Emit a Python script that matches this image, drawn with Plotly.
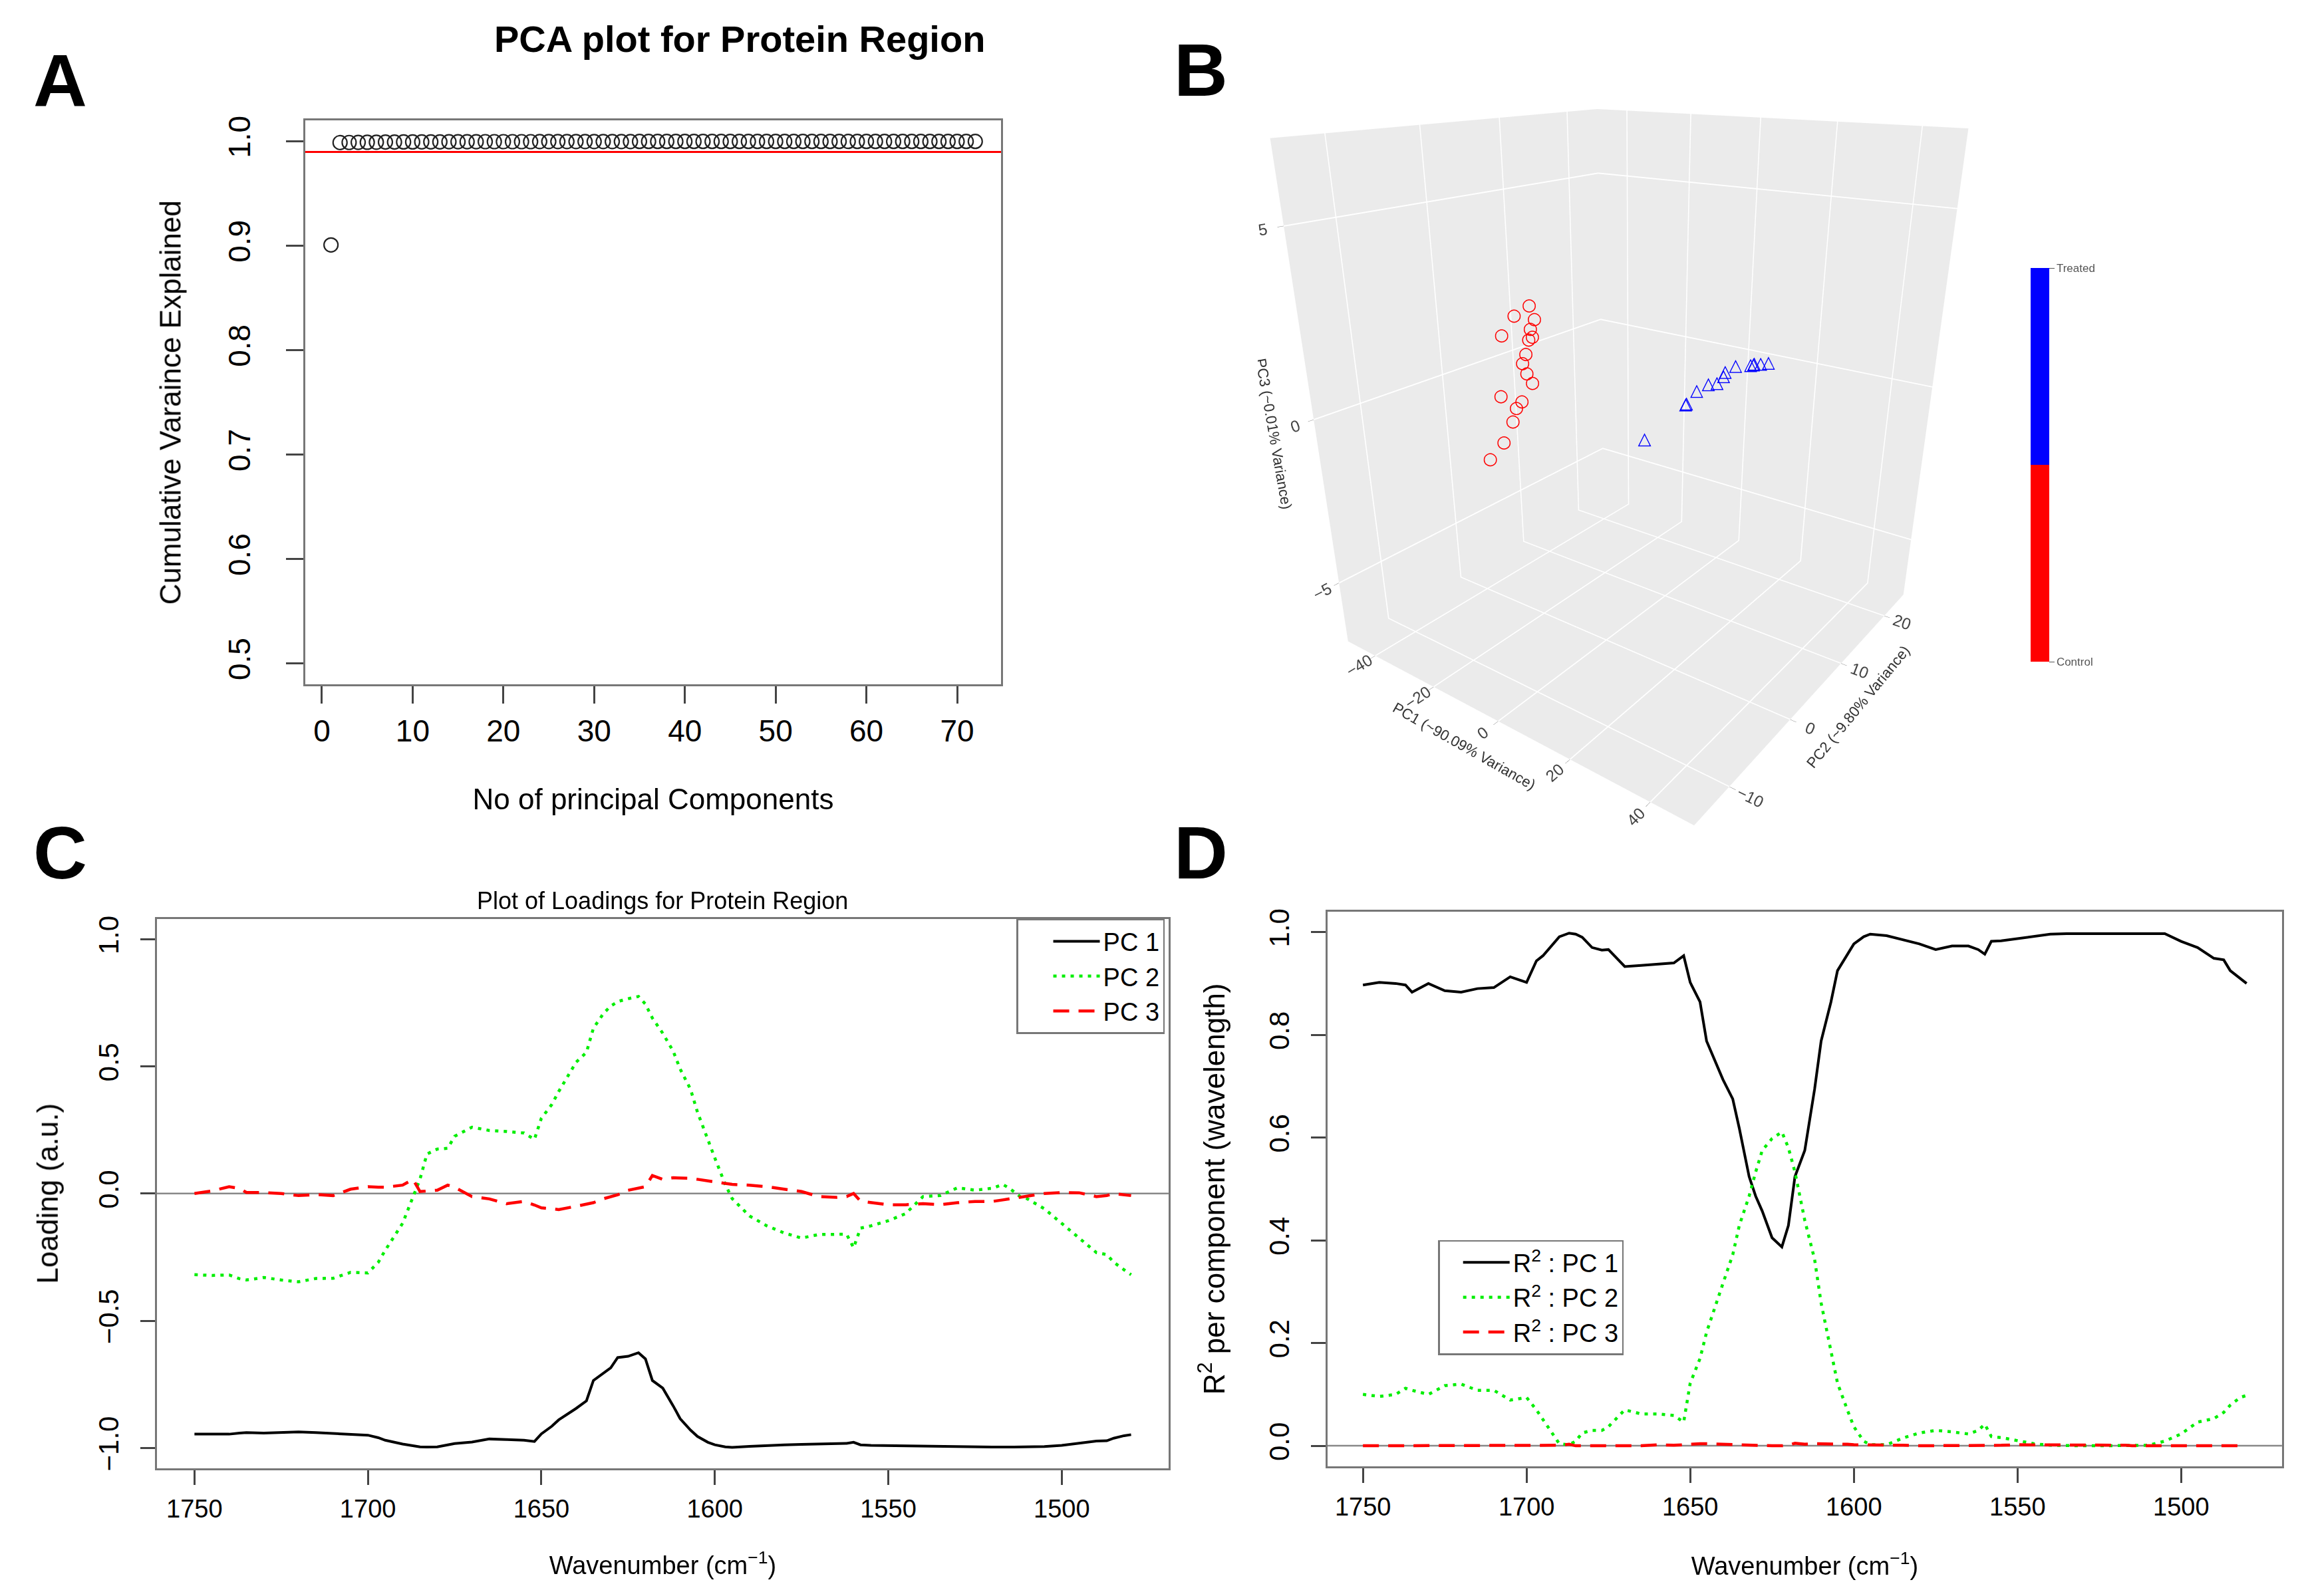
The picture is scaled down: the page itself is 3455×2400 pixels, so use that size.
import plotly.graph_objects as go

# ---------------- data ----------------
# A: cumulative variance explained per number of principal components
n_components = list(range(1, 73))
cum_variance = [
    0.9009, 0.9989, 0.9990, 0.9991, 0.9992, 0.9993, 0.9994, 0.9994, 0.9995, 0.9995,
    0.9996, 0.9996, 0.9996, 0.9997, 0.9997, 0.9997, 0.9997, 0.9998, 0.9998, 0.9998,
    0.9998, 0.9998, 0.9998, 0.9999, 0.9999, 0.9999, 0.9999, 0.9999, 0.9999, 0.9999,
    0.9999, 0.9999, 0.9999, 0.9999, 1.0000, 1.0000, 1.0000, 1.0000, 1.0000, 1.0000,
    1.0000, 1.0000, 1.0000, 1.0000, 1.0000, 1.0000, 1.0000, 1.0000, 1.0000, 1.0000,
    1.0000, 1.0000, 1.0000, 1.0000, 1.0000, 1.0000, 1.0000, 1.0000, 1.0000, 1.0000,
    1.0000, 1.0000, 1.0000, 1.0000, 1.0000, 1.0000, 1.0000, 1.0000, 1.0000, 1.0000,
    1.0000, 1.0000,
]
variance_cutoff = 0.99

# B: PCA scores
control_pc1 = [-30, -31, -29, -30, -32, -29, -30, -30, -31, -30, -29, -32, -30, -31, -30, -31, -32]
control_pc2 = [4.1, 2.4, 4.3, 4.1, 1.0, 3.9, 3.8, 3.3, 3.2, 3.3, 3.6, 0.4, 2.4, 2.0, 1.0, 0.0, -1.6]
control_pc3 = [1.5, 1.3, 1.1, 0.8, 0.8, 0.6, 0.5, 0.1, -0.2, -0.5, -0.8, -1.0, -1.3, -1.5, -1.8, -2.4, -2.8]
control_code = [0] * len(control_pc1)
treated_pc1 = [30, 31, 30, 29, 30, 31, 30, 29, 30, 31, 30, 29, 30, 31]
treated_pc2 = [-10.4, -5.7, -5.2, -3.1, -2.1, -1.5, 0.1, 1.0, 1.9, 3.6, 4.9, 5.5, 6.0, 6.6]
treated_pc3 = [0.8, 1.2, 1.1, 1.2, 1.3, 1.3, 1.3, 1.3, 1.4, 1.3, 1.2, 1.1, 1.1, 1.1]

# C, D: loadings and R^2 per wavenumber
wavenumber = [
    1750, 1745, 1740, 1737, 1735, 1730, 1725, 1720, 1715, 1710,
    1705, 1700, 1697, 1695, 1690, 1687, 1685, 1683, 1680, 1677,
    1675, 1670, 1665, 1660, 1655, 1652, 1650, 1647, 1645, 1640,
    1637, 1635, 1632, 1630, 1628, 1625, 1622, 1620, 1618, 1615,
    1612, 1610, 1607, 1605, 1602, 1600, 1597, 1595, 1590, 1585,
    1580, 1575, 1570, 1565, 1562, 1560, 1558, 1555, 1550, 1545,
    1540, 1535, 1530, 1525, 1520, 1517, 1515, 1512, 1510, 1505,
    1500, 1495, 1490, 1487, 1485, 1482, 1480,
]
loading_pc1 = [
    -0.946, -0.946, -0.946, -0.942, -0.940, -0.942, -0.939, -0.937, -0.940, -0.943,
    -0.946, -0.950, -0.960, -0.970, -0.985, -0.993, -0.996, -0.997, -0.996, -0.988,
    -0.983, -0.977, -0.965, -0.967, -0.970, -0.975, -0.945, -0.915, -0.890, -0.845,
    -0.815, -0.735, -0.705, -0.685, -0.645, -0.640, -0.626, -0.650, -0.735, -0.765,
    -0.835, -0.885, -0.930, -0.955, -0.978, -0.988, -0.996, -0.998, -0.994, -0.990,
    -0.988, -0.986, -0.985, -0.984, -0.982, -0.978, -0.988, -0.990, -0.991, -0.993,
    -0.995, -0.996, -0.997, -0.997, -0.997, -0.997, -0.997, -0.997, -0.997, -0.995,
    -0.990, -0.982, -0.973, -0.972, -0.962, -0.952, -0.948,
]
loading_pc2 = [
    -0.319, -0.322, -0.320, -0.335, -0.340, -0.330, -0.340, -0.347, -0.334, -0.333,
    -0.310, -0.312, -0.270, -0.223, -0.117, -0.010, 0.056, 0.155, 0.175, 0.178,
    0.225, 0.261, 0.248, 0.244, 0.238, 0.213, 0.296, 0.350, 0.401, 0.516,
    0.555, 0.650, 0.710, 0.737, 0.755, 0.766, 0.775, 0.745, 0.690, 0.630,
    0.560, 0.490, 0.410, 0.320, 0.210, 0.140, 0.036, -0.020, -0.088, -0.127,
    -0.155, -0.175, -0.161, -0.160, -0.160, -0.213, -0.136, -0.127, -0.107, -0.079,
    -0.012, -0.008, 0.023, 0.013, 0.021, 0.036, 0.020, -0.012, -0.020, -0.060,
    -0.117, -0.175, -0.232, -0.240, -0.270, -0.300, -0.319,
]
loading_pc3 = [
    0.000, 0.010, 0.027, 0.020, 0.004, 0.004, 0.000, -0.008, -0.004, -0.008,
    0.017, 0.027, 0.025, 0.025, 0.033, 0.056, 0.008, 0.010, 0.013, 0.033,
    0.025, -0.012, -0.021, -0.040, -0.031, -0.045, -0.056, -0.060, -0.063, -0.050,
    -0.042, -0.036, -0.020, -0.012, -0.005, 0.013, 0.020, 0.027, 0.071, 0.056,
    0.062, 0.061, 0.060, 0.056, 0.050, 0.046, 0.040, 0.036, 0.033, 0.027,
    0.017, 0.008, -0.012, -0.015, -0.012, 0.000, -0.030, -0.035, -0.044, -0.044,
    -0.040, -0.044, -0.036, -0.031, -0.031, -0.025, -0.021, -0.015, -0.012, 0.000,
    0.004, 0.003, -0.012, -0.008, 0.000, -0.005, -0.008,
]
r2_pc1 = [
    0.897, 0.902, 0.900, 0.897, 0.883, 0.900, 0.886, 0.883, 0.890, 0.892,
    0.913, 0.902, 0.944, 0.954, 0.991, 0.998, 0.996, 0.990, 0.970, 0.965,
    0.966, 0.933, 0.935, 0.937, 0.940, 0.954, 0.902, 0.864, 0.788, 0.713,
    0.675, 0.618, 0.524, 0.486, 0.457, 0.405, 0.387, 0.429, 0.524, 0.575,
    0.694, 0.788, 0.864, 0.925, 0.955, 0.977, 0.991, 0.996, 0.993, 0.985,
    0.977, 0.966, 0.973, 0.973, 0.966, 0.957, 0.982, 0.983, 0.987, 0.991,
    0.996, 0.997, 0.997, 0.998, 0.998, 0.998, 0.998, 0.998, 0.998, 0.997,
    0.982, 0.970, 0.949, 0.946, 0.925, 0.909, 0.900,
]
r2_pc2 = [
    0.100, 0.096, 0.100, 0.112, 0.108, 0.100, 0.117, 0.120, 0.108, 0.108,
    0.089, 0.094, 0.070, 0.051, 0.004, 0.002, 0.009, 0.025, 0.030, 0.030,
    0.037, 0.070, 0.062, 0.062, 0.059, 0.046, 0.122, 0.170, 0.221, 0.316,
    0.372, 0.429, 0.486, 0.533, 0.575, 0.598, 0.611, 0.580, 0.533, 0.439,
    0.363, 0.278, 0.183, 0.122, 0.070, 0.037, 0.009, 0.002, 0.002, 0.015,
    0.025, 0.030, 0.027, 0.023, 0.030, 0.042, 0.018, 0.016, 0.010, 0.004,
    0.001, 0.000, 0.000, 0.000, 0.000, 0.000, 0.000, 0.000, 0.001, 0.009,
    0.023, 0.046, 0.053, 0.065, 0.079, 0.094, 0.098,
]
r2_pc3 = [
    0.000, 0.000, 0.001, 0.000, 0.000, 0.000, 0.000, 0.000, 0.000, 0.000,
    0.000, 0.001, 0.001, 0.001, 0.001, 0.003, 0.000, 0.000, 0.000, 0.001,
    0.001, 0.000, 0.000, 0.002, 0.001, 0.002, 0.003, 0.004, 0.004, 0.003,
    0.002, 0.001, 0.000, 0.000, 0.000, 0.000, 0.000, 0.001, 0.005, 0.003,
    0.004, 0.004, 0.004, 0.003, 0.003, 0.002, 0.002, 0.001, 0.001, 0.001,
    0.000, 0.000, 0.000, 0.000, 0.000, 0.000, 0.001, 0.001, 0.002, 0.002,
    0.002, 0.002, 0.001, 0.001, 0.001, 0.001, 0.000, 0.000, 0.000, 0.000,
    0.000, 0.000, 0.000, 0.000, 0.000, 0.000, 0.000,
]

FONT = "Liberation Sans"
GREEN = "#00EE00"
BOX = "#777777"

fig = go.Figure()

# ---------------- A ----------------
fig.add_trace(go.Scatter(
    x=n_components, y=cum_variance, mode="markers", showlegend=False,
    marker=dict(symbol="circle-open", size=21, color="#222222", line=dict(width=2.2)),
    xaxis="x", yaxis="y",
))

# ---------------- B ----------------
# control: red rings (text glyphs) + invisible markers that carry the colour key
fig.add_trace(go.Scatter3d(
    x=control_pc1, y=control_pc2, z=control_pc3, mode="markers+text", showlegend=False,
    text=["○"] * len(control_pc1),
    textfont=dict(color="#FF0000", size=26, family="DejaVu Sans", weight="bold"),
    marker=dict(
        symbol="circle", size=2, opacity=0, color=control_code, cmin=0, cmax=1,
        colorscale=[[0, "#FF0000"], [0.5, "#FF0000"], [0.5, "#0000FF"], [1, "#0000FF"]],
        showscale=True,
        colorbar=dict(
            x=0.8785, xanchor="left", y=0.7135, yanchor="middle", len=0.256,
            thickness=28, outlinewidth=0, tickvals=[0, 1], ticktext=["Control", "Treated"],
            ticks="outside", ticklen=8, tickcolor="#555", tickfont=dict(size=17, color="#555"),
        ),
    ),
    scene="scene",
))
fig.add_trace(go.Scatter3d(
    x=treated_pc1, y=treated_pc2, z=treated_pc3, mode="text", showlegend=False,
    text=["△"] * len(treated_pc1),
    textfont=dict(color="#0000FF", size=26, family="DejaVu Sans", weight="bold"),
    scene="scene",
))

# ---------------- C ----------------
fig.add_trace(go.Scatter(x=wavenumber, y=loading_pc1, mode="lines", name="PC 1",
                         line=dict(color="black", width=4), xaxis="x2", yaxis="y2", legend="legend"))
fig.add_trace(go.Scatter(x=wavenumber, y=loading_pc2, mode="lines", name="PC 2",
                         line=dict(color=GREEN, width=4.5, dash="5px,8px"), xaxis="x2", yaxis="y2", legend="legend"))
fig.add_trace(go.Scatter(x=wavenumber, y=loading_pc3, mode="lines", name="PC 3",
                         line=dict(color="#FF0000", width=4.5, dash="24px,14px"), xaxis="x2", yaxis="y2", legend="legend"))

# ---------------- D ----------------
fig.add_trace(go.Scatter(x=wavenumber, y=r2_pc1, mode="lines", name="R<sup>2</sup> : PC 1",
                         line=dict(color="black", width=4), xaxis="x3", yaxis="y3", legend="legend2"))
fig.add_trace(go.Scatter(x=wavenumber, y=r2_pc2, mode="lines", name="R<sup>2</sup> : PC 2",
                         line=dict(color=GREEN, width=4.5, dash="5px,8px"), xaxis="x3", yaxis="y3", legend="legend2"))
fig.add_trace(go.Scatter(x=wavenumber, y=r2_pc3, mode="lines", name="R<sup>2</sup> : PC 3",
                         line=dict(color="#FF0000", width=4.5, dash="24px,14px"), xaxis="x3", yaxis="y3", legend="legend2"))


def r_axis(**kw):
    base = dict(showgrid=False, zeroline=False, showline=True, mirror=True, linecolor=BOX,
                linewidth=2.5, ticks="outside", tickcolor="#444", tickwidth=2.5,
                color="black", fixedrange=True)
    base.update(kw)
    return base


def letter(txt, x, y):
    return dict(text=f"<b>{txt}</b>", x=x, y=y, xref="paper", yref="paper", showarrow=False,
                xanchor="center", yanchor="middle", font=dict(size=112))


scene_axis = dict(backgroundcolor="#EBEBEB", showbackground=True, gridcolor="white", gridwidth=4,
                  zeroline=False, showspikes=False, ticks="outside", ticklen=8, tickcolor="#888",
                  tickfont=dict(size=17, color="#444"), title_font=dict(size=22, color="#333"))

fig.update_layout(
    width=3455, height=2400, margin=dict(l=0, r=0, t=0, b=0),
    paper_bgcolor="white", plot_bgcolor="white",
    font=dict(family=FONT, color="black"),
    xaxis=r_axis(domain=[0.1305, 0.4333], anchor="y", range=[-1.84, 74.84],
                 tickvals=[0, 10, 20, 30, 40, 50, 60, 70], ticklen=26, ticklabelstandoff=2,
                 tickfont=dict(size=46),
                 title=dict(text="No of principal Components", font=dict(size=44), standoff=62)),
    yaxis=r_axis(domain=[0.5754, 0.9304], anchor="x", range=[0.48, 1.02],
                 tickvals=[0.5, 0.6, 0.7, 0.8, 0.9, 1.0], tickformat=".1f", tickangle=-90,
                 ticklen=26, ticklabelstandoff=36, tickfont=dict(size=46),
                 title=dict(text="Cumulative Varaince Explained", font=dict(size=44), standoff=48)),
    xaxis2=r_axis(domain=[0.0660, 0.5062], anchor="y2", range=[1760.8, 1469.2],
                  tickvals=[1750, 1700, 1650, 1600, 1550, 1500], ticklen=22, ticklabelstandoff=4,
                  tickfont=dict(size=38),
                  title=dict(text="Wavenumber (cm<sup>−1</sup>)", font=dict(size=38), standoff=52)),
    yaxis2=r_axis(domain=[0.0821, 0.4279], anchor="x2", range=[-1.08, 1.08],
                  tickvals=[-1.0, -0.5, 0.0, 0.5, 1.0], tickformat=".1f", tickangle=-90,
                  ticklen=22, ticklabelstandoff=16, tickfont=dict(size=42),
                  title=dict(text="Loading (a.u.)", font=dict(size=44), standoff=40)),
    xaxis3=r_axis(domain=[0.5754, 0.9907], anchor="y3", range=[1760.8, 1469.2],
                  tickvals=[1750, 1700, 1650, 1600, 1550, 1500], ticklen=22, ticklabelstandoff=4,
                  tickfont=dict(size=38),
                  title=dict(text="Wavenumber (cm<sup>−1</sup>)", font=dict(size=38), standoff=56)),
    yaxis3=r_axis(domain=[0.0833, 0.4325], anchor="x3", range=[-0.04, 1.04],
                  tickvals=[0.0, 0.2, 0.4, 0.6, 0.8, 1.0], tickformat=".1f", tickangle=-90,
                  ticklen=22, ticklabelstandoff=16, tickfont=dict(size=42),
                  title=dict(text="R<sup>2</sup> per component (wavelength)", font=dict(size=44), standoff=46)),
    scene=dict(
        domain=dict(x=[0.545, 0.875], y=[0.455, 0.95]),
        xaxis=dict(scene_axis, title=dict(text="PC1 (~90.09% Variance)"), range=[-50, 50],
                   tickvals=[-40, -20, 0, 20, 40]),
        yaxis=dict(scene_axis, title=dict(text="PC2 (~9.80% Variance)"), range=[-15, 25],
                   tickvals=[-10, 0, 10, 20]),
        zaxis=dict(scene_axis, title=dict(text="PC3 (~0.01% Variance)"), range=[-7, 7],
                   tickvals=[-5, 0, 5]),
        aspectmode="manual", aspectratio=dict(x=1, y=1, z=1.15),
        camera=dict(eye=dict(x=1.2, y=-1.63, z=0.75), center=dict(x=0, y=0, z=-0.2),
                    up=dict(x=0, y=0, z=1)),
    ),
    legend=dict(x=0.5045, xanchor="right", y=0.4279, yanchor="top", bgcolor="white",
                bordercolor=BOX, borderwidth=2.5, font=dict(size=38), itemwidth=70,
                indentation=48, tracegroupgap=0),
    legend2=dict(x=0.6235, xanchor="left", y=0.2258, yanchor="top", bgcolor="white",
                 bordercolor=BOX, borderwidth=2.5, font=dict(size=38), itemwidth=70,
                 indentation=30, tracegroupgap=0),
    shapes=[
        dict(type="line", xref="x domain", yref="y", x0=0, x1=1, y0=variance_cutoff, y1=variance_cutoff,
             line=dict(color="#FF0000", width=3)),
        dict(type="line", xref="x2 domain", yref="y2", x0=0, x1=1, y0=0, y1=0,
             line=dict(color="#888888", width=2.5), layer="below"),
        dict(type="line", xref="x3 domain", yref="y3", x0=0, x1=1, y0=0, y1=0,
             line=dict(color="#888888", width=2.5), layer="below"),
    ],
    annotations=[
        dict(text="<b>PCA plot for Protein Region</b>", x=0.3196, y=0.982, xref="paper", yref="paper",
             showarrow=False, xanchor="center", yanchor="middle", font=dict(size=56)),
        dict(text="Plot of Loadings for Protein Region", x=0.2861, y=0.4395, xref="paper", yref="paper",
             showarrow=False, xanchor="center", yanchor="middle", font=dict(size=36)),
        letter("A", 0.0240, 0.9555),
        letter("B", 0.5203, 0.9620),
        letter("C", 0.0240, 0.4695),
        letter("D", 0.5203, 0.4695),
    ],
)

fig.write_html("out.html")
